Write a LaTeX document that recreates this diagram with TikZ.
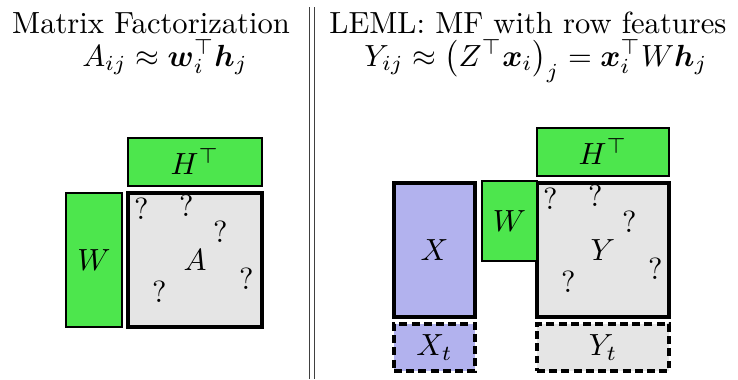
\documentclass[tikz,border=0pt]{standalone}
\usepackage{amsmath}
\usepackage{xcolor}
\usepackage{tikz}
\usetikzlibrary{positioning}
\definecolor{MFGreen}{RGB}{77,230,77}
\definecolor{MFLavender}{RGB}{178,178,238}
\definecolor{MFGray}{RGB}{229,229,229}

\begin{document}
\begin{tikzpicture}[x=0.327pt,y=-0.327pt,
    blk/.style 2 args={draw, inner sep=0pt, minimum width=#1*0.327pt, minimum height=#2*0.327pt},
    factor/.style={fill=MFGreen, line width=0.45pt},
    known/.style={fill=MFGray, line width=1.1pt},
    feat/.style={fill=MFLavender, line width=1.1pt},
    test/.style={dash pattern=on 2.6pt off 1.4pt, line width=1.1pt},
    head/.style={anchor=base, inner sep=0.5pt},
    qmark/.style={inner sep=0pt}]
  \useasboundingbox (0,0) rectangle (738,379);
  % left half: plain MF
  \node[head] (mftitle) at (151,33) {Matrix Factorization};
  \node[head] (mfeq) at (165,66) {$A_{ij} \approx \boldsymbol{w}_i^{\top} \boldsymbol{h}_j$};
  \node[blk={134}{48}, factor] (Ht) at (195,162) {$H^{\top}$};
  \node[blk={134}{134}, known] (A) at (195,260) {$A$};
  \node[blk={56}{134}, factor] (W) at (94,260) {$W$};

  % separator
  \draw[black!75, double, double distance=1.2pt, line width=0.45pt] (312,7) -- (312,379);

  % right half: LEML
  \node[head] (lemltitle) at (528,33) {LEML: MF with row features};
  \node[head] (lemleq) at (536,66) {$Y_{ij} \approx \big(Z^{\top} \boldsymbol{x}_i\big)_j = \boldsymbol{x}_i^{\top} W \boldsymbol{h}_j$};
  \node[blk={132}{48}, factor] (Ht2) at (603,152) {$H^{\top}$};
  \node[blk={132}{134}, known] (Y) at (603,250) {$Y$};
  \node[blk={55}{80}, factor, line width=0.6pt] (W2) at (509.5,221) {$W$};
  \node[blk={81}{134}, feat] (X) at (434.5,250) {$X$};
  \node[blk={81}{47}, feat, test] (Xt) at (434.5,347.5) {$X_t$};
  \node[blk={132}{47}, known, test] (Yt) at (603,347.5) {$Y_t$};

  % missing entries
  \foreach \m in {A,Y}
    \foreach \dx/\dy [count=\k] in {15/17,60/14,94/40,120/87,33/100}
      \node[qmark] (\m-q\k) at ([shift={(\dx,\dy)}]\m.north west) {?};
\end{tikzpicture}
\end{document}
